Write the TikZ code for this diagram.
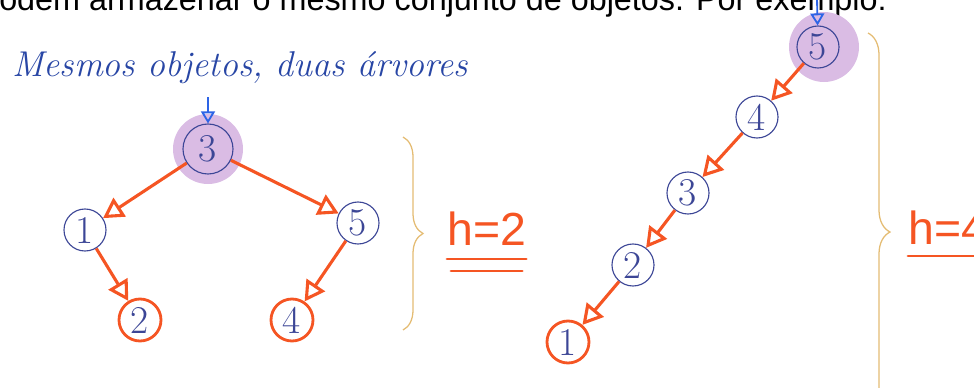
\documentclass[tikz,border=0pt]{standalone}
\usepackage{fontspec}
\newfontfamily\prose{Liberation Sans}
\usetikzlibrary{arrows.meta,decorations.pathreplacing}
\definecolor{ink}{RGB}{60,70,150}
\definecolor{hand}{RGB}{40,70,165}
\definecolor{orng}{RGB}{245,85,35}
\definecolor{lilac}{RGB}{218,188,228}
\definecolor{gold}{RGB}{228,188,115}
\definecolor{arrblue}{RGB}{45,100,230}
\tikzset{
  vtx/.style={circle,draw=ink,line width=0.8pt,minimum size=1.05cm,inner sep=0pt,
    text=ink,font=\fontsize{28}{28}\selectfont},
  leaf/.style={vtx,draw=orng,line width=2pt},
  link/.style={-{Triangle[open,length=5mm,width=5.5mm]},orng,line width=2.2pt},
  entry/.style={-{Triangle[open,length=3mm,width=3.5mm]},arrblue,line width=1.3pt},
  halo/.style={fill=lilac},
  hbrace/.style={decorate,draw=gold,line width=0.9pt},
  hlbl/.style={text=orng,font=\prose\fontsize{33}{33}\selectfont,anchor=base west,inner sep=0pt},
  ul/.style={orng,line width=2pt,line cap=round},
}

\begin{document}
\begin{tikzpicture}[x=0.025cm,y=-0.025cm]
  \useasboundingbox (0,0) rectangle (974,388);
  \clip (0,0) rectangle (974,388);
  \node[anchor=base west,inner sep=0pt,font=\prose\fontsize{23}{23}\selectfont] (intro) at (-19,10)
    {podem armazenar o mesmo conjunto de objetos. Por exemplo:};
  \node[anchor=base west,inner sep=0pt,text=hand,font=\fontsize{25.5}{30}\itshape] (title) at (12,76)
    {Mesmos objetos, duas árvores};

  % balanced tree
  \fill[halo] (208,149) circle (35);
  \node[vtx,minimum size=1.25cm] (a3) at (208,149) {3};
  \node[vtx] (a1) at (85,230) {1};
  \node[vtx] (a5) at (358,223) {5};
  \node[leaf] (a2) at (140,320) {2};
  \node[leaf] (a4) at (292,320) {4};
  \coordinate (ain) at (208,97);
  \draw[entry] (ain) -- (a3);
  \draw[link] (a3) -- (a1);
  \draw[link] (a3) -- (a5);
  \draw[link] (a1) -- (a2);
  \draw[link] (a5) -- (a4);
  \draw[hbrace,decoration={brace,amplitude=0.5cm}] (403,137) -- (403,330);
  \node[hlbl] (h2) at (447,245) {h=2};
  \draw[ul] ([yshift=-3.5mm]h2.base west) -- ([yshift=-3.5mm]h2.base east);
  \draw[ul] ([yshift=-6.5mm,xshift=1mm]h2.base west) -- ([yshift=-6.5mm,xshift=-1mm]h2.base east);

  % degenerate tree
  \fill[halo] (824,47) circle (35);
  \node[vtx] (b5) at (818,47) {5};
  \node[vtx] (b4) at (757,117) {4};
  \node[vtx] (b3) at (688,193) {3};
  \node[vtx] (b2) at (633,265) {2};
  \node[leaf] (b1) at (568,342) {1};
  \coordinate (bin) at (817,-2);
  \draw[entry] (bin) -- (b5);
  \draw[link] (b5) -- (b4);
  \draw[link] (b4) -- (b3);
  \draw[link] (b3) -- (b2);
  \draw[link] (b2) -- (b1);
  \draw[hbrace,decoration={brace,amplitude=0.55cm}] (868,33) -- (868,431);
  \node[hlbl] (h4) at (908,244) {h=4};
  \draw[ul] ([yshift=-3mm]h4.base west) -- ([yshift=-3mm]h4.base east);
\end{tikzpicture}
\end{document}
